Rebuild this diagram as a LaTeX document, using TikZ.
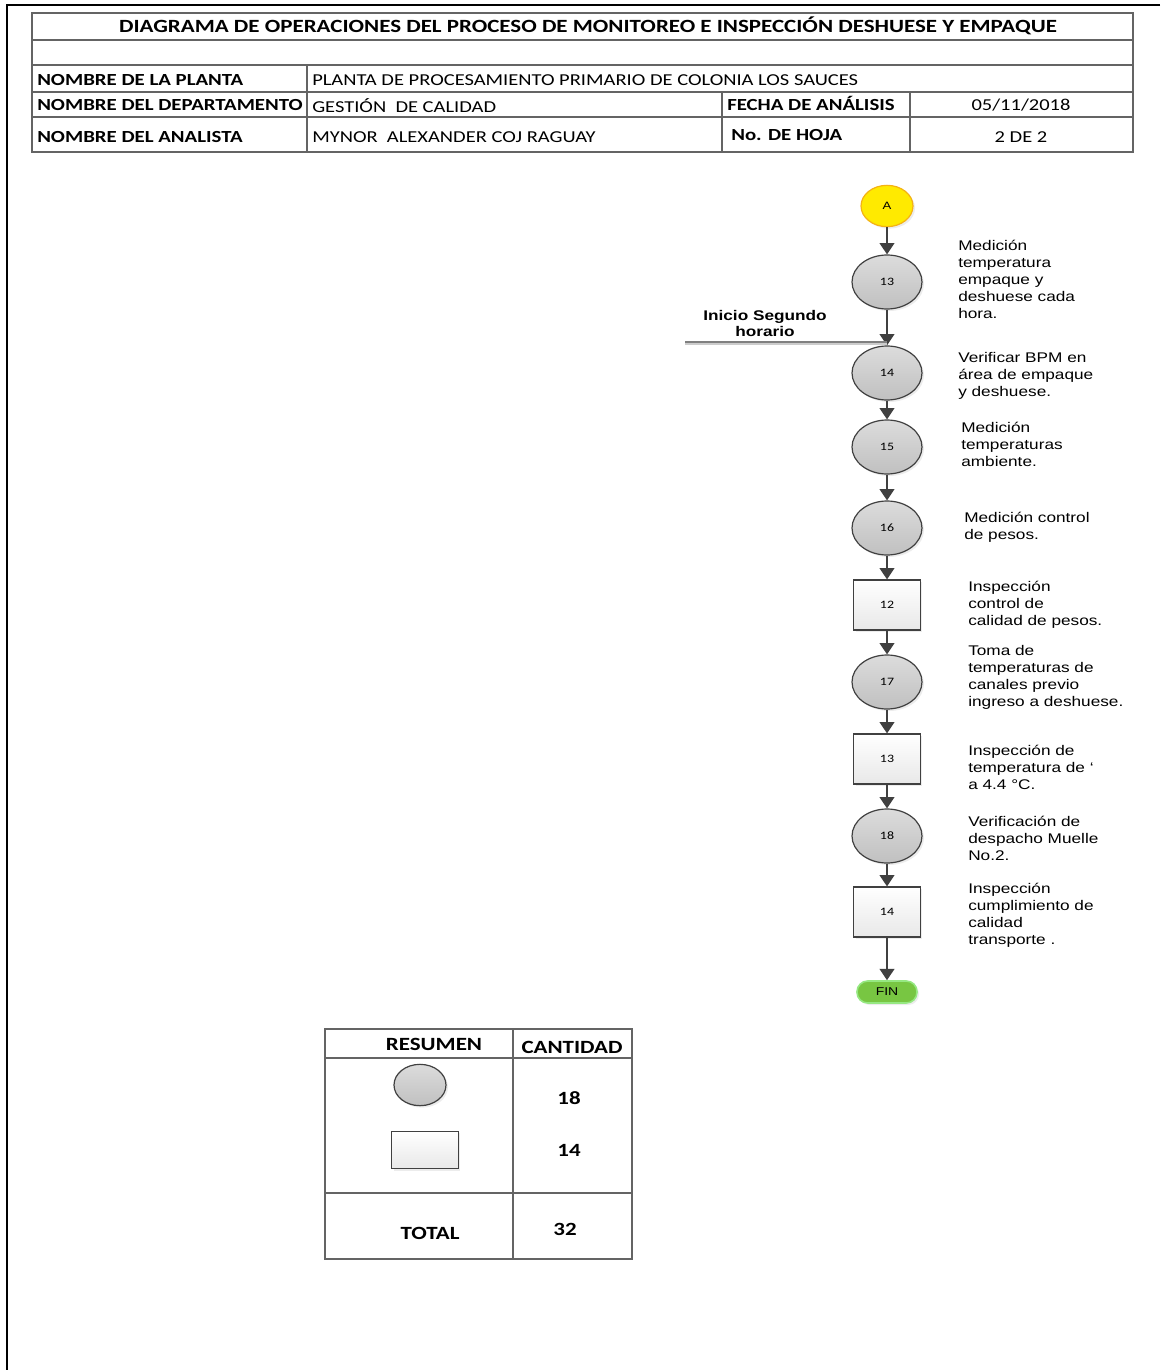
\documentclass[tikz,border=0pt]{standalone}
\usepackage{fontspec}
\setmainfont{Liberation Sans}
\newfontfamily\calibri[FakeStretch=1.23]{Carlito}
\newfontfamily\arial[FakeStretch=1.23]{Liberation Sans}
\usetikzlibrary{arrows.meta,shapes.geometric,shadows}

\definecolor{linegray}{RGB}{64,64,64}
\definecolor{gridgray}{RGB}{100,100,100}
\definecolor{opfill}{RGB}{192,192,192}
\definecolor{opfilltop}{RGB}{220,220,220}
\definecolor{boxfill}{RGB}{232,232,232}
\definecolor{startyellow}{RGB}{255,234,0}
\definecolor{startborder}{RGB}{244,178,20}
\definecolor{endgreen}{RGB}{120,198,66}
\definecolor{endborder}{RGB}{150,232,130}

\tikzset{
  softshadow/.style={drop shadow={shadow xshift=1.5pt,shadow yshift=-1.5pt,opacity=0.15}},
  operation/.style={ellipse,draw=linegray,line width=0.9pt,top color=opfilltop,bottom color=opfill,
    minimum width=52.5pt,minimum height=40.5pt,inner sep=0pt,softshadow,
    font=\calibri\fontsize{8.5}{10}\selectfont},
  inspection/.style={rectangle,draw=linegray,line width=0.9pt,top color=white,bottom color=boxfill,
    minimum width=50pt,minimum height=37.5pt,inner sep=0pt,softshadow,
    font=\calibri\fontsize{8.5}{10}\selectfont},
  startnode/.style={ellipse,draw=startborder,line width=0.9pt,fill=startyellow,
    minimum width=39pt,minimum height=31pt,inner sep=0pt,softshadow,
    font=\arial\fontsize{8}{10}\selectfont},
  endnode/.style={rectangle,rounded corners=8pt,draw=endborder,line width=1.2pt,fill=endgreen,
    minimum width=45pt,minimum height=16.5pt,inner sep=0pt,softshadow,
    font=\arial\fontsize{8.5}{10}\selectfont},
  flow/.style={draw=linegray,line width=1.5pt,-{Triangle[width=11pt,length=8.5pt]}},
  steptext/.style={anchor=west,align=left,inner sep=0pt,
    font=\arial\fontsize{10.5}{12.75}\selectfont},
  grid/.style={draw=gridgray,line width=0.9pt},
  frame/.style={draw=black,line width=2.2pt},
  headbold/.style={inner sep=0pt,font=\calibri\bfseries\fontsize{12.7}{14}\selectfont},
  headtext/.style={inner sep=0pt,font=\calibri\fontsize{12.5}{14}\selectfont},
  sumtext/.style={inner sep=0pt,font=\calibri\bfseries\fontsize{14}{16}\selectfont}
}

\begin{document}
\begin{tikzpicture}[x=0.75pt,y=-0.75pt]
  \useasboundingbox (0,0) rectangle (1160,1370);
  \draw[frame] (1160,5) -| (7,1370);

  % header table
  \draw[grid] (32,13) rectangle (1133,152);
  \foreach \y in {40,65,92,117}
    \draw[grid] (32,\y) -- (1133,\y);
  \draw[grid] (307,65) -- (307,152);
  \draw[grid] (722,92) -- (722,152) (910,92) -- (910,152);
  \node[headbold,font=\calibri\bfseries\fontsize{14}{16}\selectfont] (title) at (588,26) {DIAGRAMA DE OPERACIONES DEL PROCESO DE MONITOREO E INSPECCIÓN DESHUESE Y EMPAQUE};
  \node[headbold,anchor=west] (plantaL) at (37,80) {NOMBRE DE LA PLANTA};
  \node[headbold,anchor=west] (deptoL) at (37,105) {NOMBRE DEL DEPARTAMENTO};
  \node[headbold,anchor=west] (analistaL) at (37,137) {NOMBRE DEL ANALISTA};
  \node[headtext,anchor=west] (planta) at (312,80) {PLANTA DE PROCESAMIENTO PRIMARIO DE COLONIA LOS SAUCES};
  \node[headtext,anchor=west] (depto) at (312,106) {GESTIÓN\ \ DE CALIDAD};
  \node[headtext,anchor=west] (analista) at (312,137) {MYNOR\ \ ALEXANDER COJ RAGUAY};
  \node[headbold,anchor=west] (fechaL) at (727,103) {FECHA DE ANÁLISIS};
  \node[headtext] (fecha) at (1021,105) {05/11/2018};
  \node[headbold,anchor=west] (hojaL) at (731,135) {No. DE HOJA};
  \node[headtext] (hoja) at (1021,137) {2 DE 2};

  % flow
  \node[startnode] (A) at (887,206) {A};
  \node[operation] (o13) at (887,282) {13};
  \node[operation] (o14) at (887,373) {14};
  \node[operation] (o15) at (887,447) {15};
  \node[operation] (o16) at (887,528) {16};
  \node[inspection] (i12) at (887,605) {12};
  \node[operation] (o17) at (887,682) {17};
  \node[inspection] (i13) at (887,759) {13};
  \node[operation] (o18) at (887,836) {18};
  \node[inspection] (i14) at (887,912) {14};
  \node[endnode] (fin) at (887,992) {FIN};
  \foreach \from/\to in {A/o13,o13/o14,o14/o15,o15/o16,o16/i12,i12/o17,o17/i13,i13/o18,o18/i14,i14/fin}
    \draw[flow] (\from) -- (\to);

  \coordinate (shift2) at (685,342);
  \draw[draw=gray!40,line width=1pt] ([yshift=-1.5pt]shift2) -- ([yshift=-1.5pt]shift2 -| o13);
  \draw[draw=gray,line width=1.1pt] (shift2) -- (shift2 -| o13);
  \node[align=center,inner sep=0pt,font=\arial\bfseries\fontsize{10.5}{12}\selectfont]
    (shift2L) at (765,323) {Inicio Segundo\\horario};

  \node[steptext] (t13) at (958,279) {Medición\\temperatura\\empaque y\\deshuese cada\\hora.};
  \node[steptext] (t14) at (958,376) {Verificar BPM en\\área de empaque\\y deshuese.};
  \node[steptext] (t15) at (961,444) {Medición\\temperaturas\\ambiente.};
  \node[steptext] (t16) at (964,527.5) {Medición control\\de pesos.};
  \node[steptext] (u12) at (968,605) {Inspección\\control de\\calidad de pesos.};
  \node[steptext] (t17) at (968,677.5) {Toma de\\temperaturas de\\canales previo\\ingreso a deshuese.};
  \node[steptext] (u13) at (968,767) {Inspección de\\temperatura de ‘\\a 4.4 °C.};
  \node[steptext] (t18) at (968,838) {Verificación de\\despacho Muelle\\No.2.};
  \node[steptext] (u14) at (968,915.5) {Inspección\\cumplimiento de\\calidad\\transporte .};

  % summary table
  \draw[grid] (325,1029) rectangle (632,1259);
  \draw[grid] (513,1029) -- (513,1259);
  \draw[grid] (325,1058) -- (632,1058) (325,1193) -- (632,1193);
  \node[sumtext] (resumen) at (434,1044) {RESUMEN};
  \node[sumtext] (cantidad) at (572,1047) {CANTIDAD};
  \node[operation,minimum width=39pt,minimum height=31pt] (sumop) at (420,1085) {};
  \node[inspection,minimum width=50pt,minimum height=28pt] (sumin) at (425,1150) {};
  \node[sumtext] (nop) at (569,1098) {18};
  \node[sumtext] (nin) at (569,1150) {14};
  \node[sumtext] (total) at (430,1233) {TOTAL};
  \node[sumtext] (ntotal) at (565,1229) {32};
\end{tikzpicture}
\end{document}
